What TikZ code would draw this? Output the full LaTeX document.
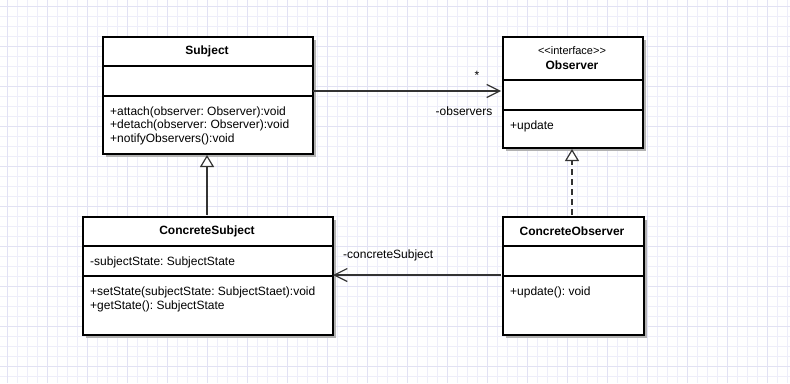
\documentclass[tikz,border=0pt]{standalone}
\usepackage{fontspec}
\setmainfont{Liberation Sans}
\usetikzlibrary{arrows.meta,shadows}
\definecolor{gridminor}{HTML}{EEEEFA}
\definecolor{gridmajor}{HTML}{E2E2F4}
\definecolor{linkcol}{HTML}{333333}
\tikzset{
  classbox/.style={draw=black, line width=2pt, fill=white, inner sep=0pt, anchor=north west,
    drop shadow={shadow xshift=3pt, shadow yshift=-3pt, opacity=1, fill=black!30}},
  sep/.style={draw=black, line width=2pt},
  title/.style={font=\fontsize{12}{14}\selectfont\bfseries, inner sep=0pt},
  stereo/.style={font=\fontsize{11}{13}\selectfont, inner sep=0pt},
  member/.style={font=\fontsize{12}{13.6}\selectfont\frenchspacing, inner sep=0pt, anchor=north west, align=left},
  lbl/.style={font=\fontsize{12}{14}\selectfont, inner sep=0pt},
  assoc/.style={draw=linkcol, line width=1.6pt, -{Straight Barb[length=13pt,width=13pt,line width=1.2pt]}},
  inherit/.style={draw=linkcol, line width=1.6pt, -{Triangle[open,length=12pt,width=14pt,fill=white,line width=1.2pt]}},
}
\begin{document}
\frenchspacing
\begin{tikzpicture}[x=1pt,y=-1pt]
\useasboundingbox (0,0) rectangle (790,383);
\fill[white] (0,0) rectangle (790,383);
\foreach \gx in {7,17,...,787} {\draw[gridminor, line width=0.8pt] (\gx,0) -- (\gx,383);}
\foreach \gy in {6,16,...,376} {\draw[gridminor, line width=0.8pt] (0,\gy) -- (790,\gy);}
\foreach \gx in {7,47,...,787} {\draw[gridmajor, line width=0.9pt] (\gx,0) -- (\gx,383);}
\foreach \gy in {6,46,...,366} {\draw[gridmajor, line width=0.9pt] (0,\gy) -- (790,\gy);}

% Subject
\node[classbox, minimum width=210pt, minimum height=117pt] (subj) at (102,36) {};
\draw[sep] (102,66) -- (312,66);
\draw[sep] (102,96) -- (312,96);
\node[title] (subjT) at (207,51) {Subject};
\node[member] (subjM) at (110,106.5) {+attach(observer: Observer):void\\+detach(observer: Observer):void\\+notifyObservers():void};

% Observer
\node[classbox, minimum width=140pt, minimum height=111pt] (obs) at (502,36) {};
\draw[sep] (502,80) -- (642,80);
\draw[sep] (502,110) -- (642,110);
\node[stereo] (obsS) at (572,51) {{<}{<}interface{>}{>}};
\node[title] (obsT) at (572,65) {Observer};
\node[member] (obsM) at (510,121) {+update};

% ConcreteSubject
\node[classbox, minimum width=250pt, minimum height=118pt] (csubj) at (82,216) {};
\draw[sep] (82,246) -- (332,246);
\draw[sep] (82,276) -- (332,276);
\node[title] (csubjT) at (207,231) {ConcreteSubject};
\node[member] (csubjA) at (90,257) {-subjectState: SubjectState};
\node[member] (csubjM) at (90,287) {+setState(subjectState: SubjectStaet):void\\+getState(): SubjectState};

% ConcreteObserver
\node[classbox, minimum width=141pt, minimum height=118pt] (cobs) at (502,216) {};
\draw[sep] (502,246) -- (643,246);
\draw[sep] (502,276) -- (643,276);
\node[title] (cobsT) at (572,231) {ConcreteObserver};
\node[member] (cobsM) at (510,287) {+update(): void};

% connectors
\coordinate (a1) at (313,91);
\coordinate (a2) at (501,91);
\draw[assoc] (a1) -- (a2);
\node[lbl] (star) at (477,75) {*};
\node[lbl] (obsLbl) at (464,111) {-observers};

\coordinate (i1) at (207,215);
\coordinate (i2) at (207,155);
\draw[inherit] (i1) -- (i2);

\coordinate (r1) at (572,215);
\coordinate (r2) at (572,149);
\draw[inherit, dash pattern=on 6pt off 4pt] (r1) -- (r2);

\coordinate (c1) at (501,275);
\coordinate (c2) at (333,275);
\draw[assoc] (c1) -- (c2);
\node[lbl, anchor=west] (csLbl) at (343,255) {-concreteSubject};
\end{tikzpicture}
\end{document}
